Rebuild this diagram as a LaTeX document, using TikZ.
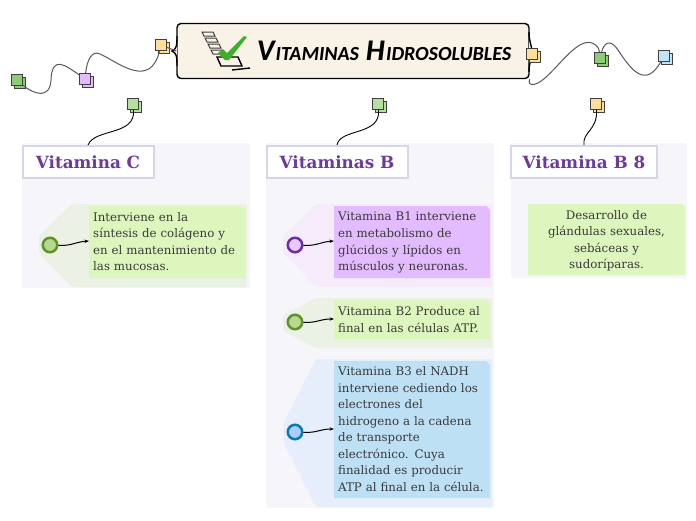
\documentclass[tikz,border=0pt]{standalone}
\usepackage{fontspec}
\usepackage{tikz}
\usetikzlibrary{arrows.meta,positioning}
\setmainfont{DejaVu Serif}
\newfontfamily\titlefont[FakeSlant=0.12]{Carlito}
\definecolor{panelbg}{HTML}{F6F6FA}
\definecolor{headline}{HTML}{D8D6E6}
\definecolor{headtext}{HTML}{6D3A9C}
\definecolor{bodytext}{HTML}{3A3A3A}
\definecolor{titlebg}{HTML}{F8F2E7}
\definecolor{greenbox}{HTML}{DDF6BD}
\definecolor{greentag}{HTML}{EBF1E4}
\definecolor{greenring}{HTML}{5F9229}
\definecolor{greendot}{HTML}{B7D98F}
\definecolor{purplebox}{HTML}{E3BBFF}
\definecolor{purpletag}{HTML}{F6EBFB}
\definecolor{purplering}{HTML}{6D2F9F}
\definecolor{purpledot}{HTML}{E8C9FF}
\definecolor{bluebox}{HTML}{BDE0F4}
\definecolor{bluetag}{HTML}{E5EEFA}
\definecolor{bluering}{HTML}{0A78B4}
\definecolor{bluedot}{HTML}{A9CDFB}
\definecolor{noteyellow}{HTML}{FFDE9C}
\definecolor{notegreen}{HTML}{8CCB78}
\definecolor{notelime}{HTML}{B7DFA0}
\definecolor{notepurple}{HTML}{E2BDFD}
\definecolor{noteblue}{HTML}{C2E4F8}
\definecolor{checkgreen}{HTML}{3FAE2A}
\begin{document}
\begin{tikzpicture}[x=1pt,y=-1pt,
      head/.style={draw=headline, line width=2pt, fill=white, minimum height=32pt, inner sep=0pt, font=\bfseries\fontsize{16.8}{16.8}\selectfont, text=headtext},
      body/.style={inner sep=0pt, align=left, text width=156pt, font=\fontsize{11.8}{16.55}\selectfont, text=bodytext},
      ring/.style={circle, line width=2.5pt, minimum size=14.5pt, inner sep=0pt},
      note/.style={draw=black!75, line width=1.1pt, minimum size=10.5pt, inner sep=0pt},
      arr/.style={-{Stealth[length=4.5pt]}, line width=1pt},
      grey wire/.style={draw=black!65, line width=1pt},
      dark wire/.style={draw=black, line width=.9pt}
    ]
    \useasboundingbox (0,0) rectangle (696,520);

    % panels
    \fill[panelbg, rounded corners=2pt] (22,143) rectangle (250,288);
    \fill[panelbg, rounded corners=2pt] (266,143) rectangle (494,508);
    \fill[panelbg, rounded corners=2pt] (511,143) rectangle (687,278);

    % tags behind the texts
    \fill[greentag, rounded corners=2pt] (72,204) -- (247,204) -- (247,287) -- (72,287) -- (39,253) -- (39,236) -- cycle;
    \fill[purpletag, rounded corners=2pt] (316,204) -- (492,204) -- (492,287) -- (316,287) -- (283,253) -- (283,236) -- cycle;
    \fill[greentag, rounded corners=2pt] (316,298) -- (492,298) -- (492,348) -- (316,348) -- (283,331) -- (283,315) -- cycle;
    \fill[bluetag, rounded corners=2pt] (316,359) -- (492,359) -- (492,507) -- (316,507) -- (283,441) -- (283,424) -- cycle;

    % text boxes
    \fill[greenbox] (89,206) -- (241,206) -- (245,210) -- (245,278) -- (89,278) -- cycle;
    \fill[purplebox] (334,206) -- (486,206) -- (490,210) -- (490,278) -- (334,278) -- cycle;
    \fill[greenbox] (334,300) -- (486,300) -- (490,304) -- (490,339) -- (334,339) -- cycle;
    \fill[bluebox] (334,361) -- (486,361) -- (490,365) -- (490,498) -- (334,498) -- cycle;
    \fill[greenbox] (528,204) -- (682,204) -- (685,207) -- (685,275) -- (528,275) -- cycle;

    \node[body, anchor=north west] (txtC)  at (93,212) {Interviene en la\\síntesis de colágeno y\\en el mantenimiento  de\\las mucosas.};
    \node[body, anchor=north west] (txtBa) at (338,212) {Vitamina B1 interviene\\en metabolismo de\\glúcidos y lípidos en\\músculos y neuronas.};
    \node[body, anchor=north west] (txtBb) at (338,306.5) {Vitamina B2 Produce al\\final en las células ATP.};
    \node[body, anchor=north west] (txtBc) at (338,366.5) {Vitamina B3 el NADH\\interviene cediendo los\\electrones del\\hidrogeno a la cadena\\de transporte\\electrónico. Cuya\\finalidad es producir\\ATP al final en la célula.};
    \node[body, anchor=north, align=center] (txtB8) at (606.5,210) {Desarrollo de\\glándulas sexuales,\\sebáceas y\\sudoríparas.};

    % headers
    \node[head, minimum width=131pt] (headC) at (88,162) {Vitamina C};
    \node[head, minimum width=141pt] (headB) at (337,162) {Vitaminas B};
    \node[head, minimum width=146pt] (headE) at (584,162) {Vitamina B 8};

    % rings
    \node[ring, draw=greenring, fill=greendot]   (dotC)  at (50,245) {};
    \node[ring, draw=purplering, fill=purpledot] (dotBa) at (295,245) {};
    \node[ring, draw=greenring, fill=greendot]   (dotBb) at (295,322) {};
    \node[ring, draw=bluering, fill=bluedot]     (dotBc) at (295,432) {};
    \coordinate (inC)  at (89,241);
    \coordinate (inBa) at (334,241);
    \coordinate (inBb) at (334,319);
    \coordinate (inBc) at (334,429);
    \draw[arr] (dotC)  .. controls (72,246) and (75,242) .. (inC);
    \draw[arr] (dotBa) .. controls (317,246) and (320,242) .. (inBa);
    \draw[arr] (dotBb) .. controls (317,323) and (320,319) .. (inBb);
    \draw[arr] (dotBc) .. controls (317,433) and (320,429) .. (inBc);

    % title
    \node[draw=black, line width=1.4pt, fill=titlebg, rounded corners=4pt, minimum width=352pt, minimum height=55pt, inner sep=0pt, text width=352pt, align=left, font=\titlefont\bfseries\fontsize{20}{28}\selectfont] (title) at (353,51) {\hspace*{79pt}{\fontsize{30}{28}\selectfont V\kern1.5pt}ITAMINAS {\fontsize{30}{28}\selectfont H\kern1.5pt}IDROSOLUBLES};
    \draw[black, line width=1.4pt, fill=titlebg] (177,36) .. controls (177,47) and (176,49) .. (172,51) .. controls (176,53) and (177,55) .. (177,66);
    \draw[black, line width=1.4pt, fill=titlebg] (529,32) .. controls (529,42) and (532,46) .. (532,52) .. controls (532,58) and (529,62) .. (529,72);
    % check list icon
    \foreach \i in {0,1,2,3}
      \draw[black!75, line width=1pt, fill=titlebg] (202+\i*3,32+\i*6) -- (213+\i*3,32+\i*6) -- (215+\i*3,36+\i*6) -- (204+\i*3,36+\i*6) -- cycle;
    \draw[black, line width=1.4pt] (217,57) -- (238,57) -- (242,66) -- (221,66) -- cycle;
    \draw[black, line width=1.4pt] (232,70) -- (250,68);
    \fill[checkgreen] (218,53) -- (223,49) -- (227,53) -- (244,36) -- (247,37) -- (229,60) -- (225,60) -- cycle;

    % notes, each one with a second square behind it
    \foreach \nm/\px/\py/\col in {noteL/161/45/noteyellow, noteA/17/80/notegreen, noteP/85/79/notepurple,
        noteC/133/104/notelime, noteB/378/104/notelime, noteE/596/104/noteyellow,
        noteR/532/54/noteyellow, noteG/600/58/notegreen, noteK/664/56/noteblue} {
      \node[note, fill=\col] at (\px+3,\py+3) {};
      \node[note, fill=\col] (\nm) at (\px,\py) {};
    }

    % links along the top
    \draw[grey wire] (noteA) .. controls (33,94) and (50,100) .. (51,80) .. controls (52,55) and (65,65) .. (noteP);
    \draw[grey wire] (noteP) .. controls (87,60) and (92,50) .. (100,54) .. controls (118,62) and (150,90) .. (noteL);
    \draw[grey wire] (title.south east) .. controls (527,86) and (535,87) .. (545,78) .. controls (560,65) and (578,38) .. (592,43) .. controls (597,45) and (599,48) .. (noteG);
    \draw[grey wire] (noteG) .. controls (604,43) and (610,38) .. (618,50) .. controls (630,68) and (645,90) .. (noteK);
    \draw[dark wire] (noteC) .. controls (136,136) and (95,128) .. (headC.north);
    \draw[dark wire] (noteB) .. controls (381,136) and (340,128) .. (headB.north);
    \draw[dark wire] (noteE) .. controls (598,130) and (582,132) .. (headE.north);
    \draw[grey wire] (noteL) -- (title.west);
  \end{tikzpicture}
\end{document}
